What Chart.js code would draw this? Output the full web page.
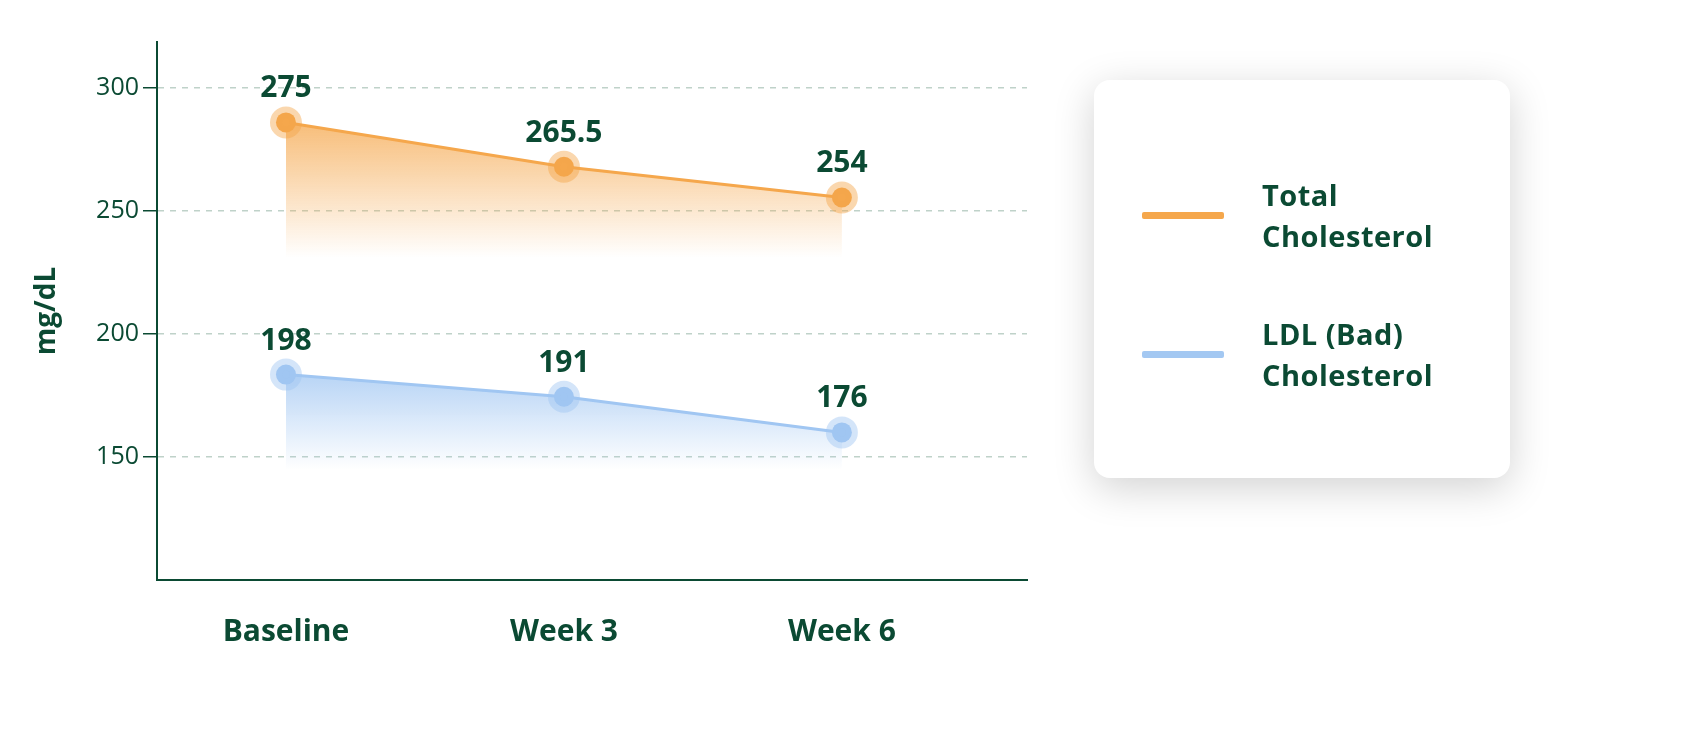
<!DOCTYPE html>
<html>
<head>
<meta charset="utf-8">
<script src="https://cdn.jsdelivr.net/npm/chart.js@4"></script>
<style>
  body { margin: 0; background: #fff; font-family: "Open Sans", sans-serif; }
  #wrap { position: relative; width: 1700px; height: 744px; }
  #chartBox { position: absolute; left: 0; top: 0; width: 1057px; height: 744px; }
  #legend {
    position: absolute; left: 1094px; top: 80px; width: 416px; height: 398px;
    background: #fff; border-radius: 16px;
    box-shadow: 0 10px 40px rgba(0,0,0,0.18);
  }
  .item { position: absolute; left: 48px; display: flex; align-items: center; }
  .swatch { width: 82px; height: 7px; border-radius: 2px; margin-right: 38px; }
  .txt { color: #0b4a33; font-weight: 700; font-size: 29px; line-height: 41px; letter-spacing: 0.5px; }
</style>
</head>
<body>
<div id="wrap">
  <div id="chartBox"><canvas id="grafica"></canvas></div>
  <div id="legend">
    <div class="item" style="top:94px"><div class="swatch" style="background:#f5a74c"></div><div class="txt">Total<br>Cholesterol</div></div>
    <div class="item" style="top:233px"><div class="swatch" style="background:#a3c8f2"></div><div class="txt">LDL (Bad)<br>Cholesterol</div></div>
  </div>
</div>
<script>
// Datos del gráfico
const categorias = ['Baseline', 'Week 3', 'Week 6'];
// posiciones dibujadas y etiquetas mostradas
const totalValores = [286, 268, 255.5];
const totalEtiquetas = ['275', '265.5', '254'];
const ldlValores = [183.5, 174.5, 160];
const ldlEtiquetas = ['198', '191', '176'];
const ticksY = [150, 200, 250, 300];

const verde = '#0b4a33';

function degradado(ctx, color, fondo) {
    const chart = ctx.chart;
    const area = chart.chartArea;
    if (!area) return 'transparent';
    const y = chart.scales.y;
    const top = y.getPixelForValue(Math.max(...(ctx.datasetIndex === 0 ? totalValores : ldlValores)));
    const bottom = y.getPixelForValue(fondo);
    const g = chart.ctx.createLinearGradient(0, top, 0, bottom);
    g.addColorStop(0, color + '0.75)');
    g.addColorStop(1, color + '0)');
    return g;
}

const etiquetasPlugin = {
    id: 'etiquetas',
    afterDatasetsDraw(chart) {
        const ctx = chart.ctx;
        ctx.save();
        ctx.font = 'bold 30px "Open Sans"';
        ctx.fillStyle = verde;
        ctx.textAlign = 'center';
        ctx.textBaseline = 'alphabetic';
        [totalEtiquetas, ldlEtiquetas].forEach((labels, i) => {
            chart.getDatasetMeta(i).data.forEach((p, j) => {
                ctx.fillText(labels[j], p.x, p.y - 25);
            });
        });
        ctx.restore();
    }
};

const puntos = (c) => ({
    borderColor: c,
    pointBackgroundColor: c,
    pointBorderColor: c.replace('1)', '0.45)'),
    pointBorderWidth: 12,
    pointRadius: 10,
    pointHoverRadius: 10,
    borderWidth: 3,
    tension: 0
});

new Chart(document.getElementById('grafica'), {
    type: 'line',
    data: {
        datasets: [
            {
                label: 'Total Cholesterol',
                data: totalValores.map((v, i) => ({ x: i, y: v })),
                ...puntos('rgba(245,167,76,1)'),
                fill: { value: 231 },
                backgroundColor: (ctx) => degradado(ctx, 'rgba(245,167,76,', 231)
            },
            {
                label: 'LDL (Bad) Cholesterol',
                data: ldlValores.map((v, i) => ({ x: i, y: v })),
                ...puntos('rgba(160,198,242,1)'),
                fill: { value: 145 },
                backgroundColor: (ctx) => degradado(ctx, 'rgba(160,198,242,', 145)
            }
        ]
    },
    options: {
        responsive: true,
        maintainAspectRatio: false,
        animation: false,
        layout: { padding: { top: 42, right: 30, left: 0, bottom: 0 } },
        plugins: { legend: { display: false }, tooltip: { enabled: false } },
        scales: {
            x: {
                type: 'linear',
                min: -0.464,
                max: 2.666,
                afterBuildTicks: (s) => { s.ticks = [0, 1, 2].map(v => ({ value: v })); },
                afterFit: (s) => { s.height = 164; },
                ticks: {
                    callback: (v) => categorias[v],
                    color: verde,
                    font: { family: 'Open Sans', size: 30, weight: 'bold' },
                    padding: 26
                },
                grid: { display: false },
                border: { color: verde, width: 2 }
            },
            y: {
                min: 100,
                max: 318.7,
                afterBuildTicks: (s) => { s.ticks = ticksY.map(v => ({ value: v })); },
                afterFit: (s) => { s.width = 157; },
                ticks: {
                    color: verde,
                    font: { family: 'Open Sans', size: 25 },
                    padding: 4
                },
                grid: {
                    color: '#bfd2c9',
                    lineWidth: 1.5,
                    tickColor: verde,
                    tickLength: 14
                },
                border: { color: verde, width: 2, dash: [6, 6] },
                title: {
                    display: true,
                    text: 'mg/dL',
                    color: verde,
                    font: { family: 'Open Sans', size: 28, weight: 'bold' },
                    padding: { top: 30, bottom: 20 }
                }
            }
        }
    },
    plugins: [etiquetasPlugin]
});
</script>
</body>
</html>
